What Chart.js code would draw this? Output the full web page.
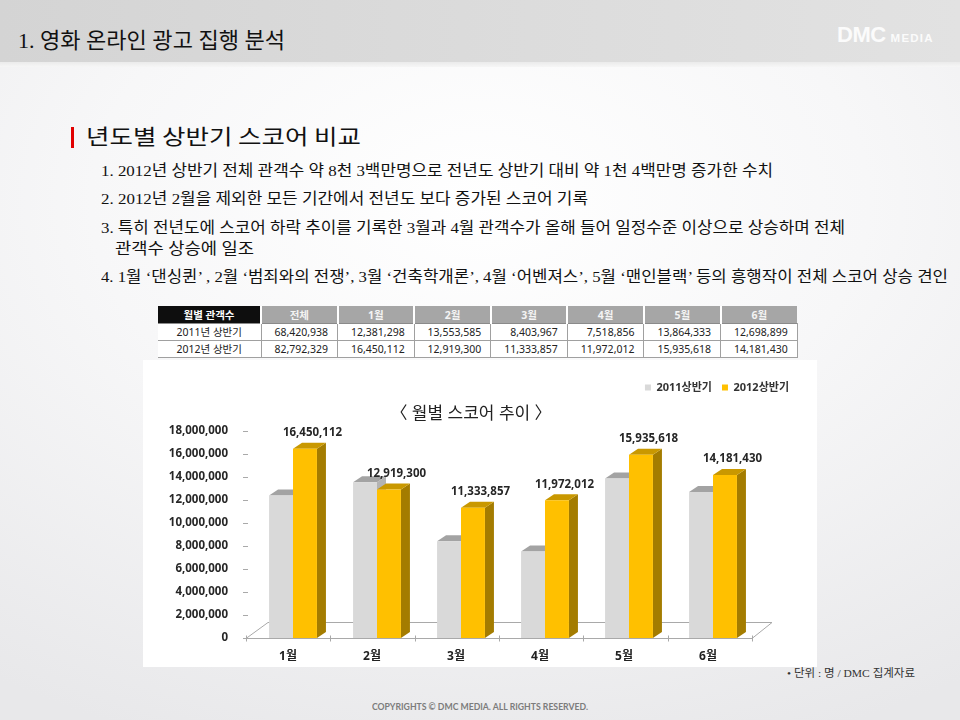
<!DOCTYPE html>
<html><head><meta charset="utf-8">
<script src="https://cdn.jsdelivr.net/npm/chart.js@4.4.1/dist/chart.umd.min.js"></script>
<style>
html,body{margin:0;padding:0;}
body{width:960px;height:720px;position:relative;overflow:hidden;
 background:radial-gradient(ellipse 90% 80% at 50% 28%, #ffffff 0%, #f7f7f8 45%, #e8e8ea 100%);
 font-family:"Noto Sans CJK KR","Noto Sans",sans-serif;}
#hdr{position:absolute;left:0;top:0;width:960px;height:62px;background:linear-gradient(to right,#d4d4d4,#dcdcdc 55%,#e2e2e2);}
#hdrline{position:absolute;left:0;top:62px;width:960px;height:5px;background:linear-gradient(#ebebeb,#f6f6f6);}
.t{position:absolute;white-space:nowrap;transform-origin:0 50%;line-height:1;color:#111;
 font-family:"Liberation Serif","Noto Sans CJK KR",serif;}
#redbar{position:absolute;left:71px;top:127px;width:3px;height:21px;background:#e10000;}
#tbl{position:absolute;left:158px;top:306px;border-collapse:collapse;table-layout:fixed;
 font-family:"Noto Sans","Noto Sans CJK KR",sans-serif;font-size:10.5px;}
#tbl td,#tbl th{height:16px;padding:0;line-height:16px;overflow:hidden;white-space:nowrap;}
#tbl th{background:#a6a6a6;color:#f4f4f4;font-weight:bold;text-align:center;border-left:2px solid #fff;}
#tbl th.first{background:#0e0e0e;color:#fff;border-left:none;}
#tbl td{background:#fff;color:#222;text-align:right;padding-right:9px;border:1px solid #a0a0a0;border-top:1px solid #8a8a8a;}
#tbl td.rowh{text-align:center;padding-right:0;border-left:none;}
#box{position:absolute;left:143px;top:360px;width:674px;height:307px;background:#fff;}
#logo{position:absolute;left:837px;top:22px;color:#fbfbfb;font-family:"Liberation Sans",sans-serif;font-weight:bold;white-space:nowrap;}
#logo .a{font-size:22px;letter-spacing:-0.5px;}
#logo .b{font-size:11.5px;letter-spacing:1.2px;margin-left:5px;}
#unit{font-size:11px;color:#333;}
#copy{font-family:"Lato","Liberation Sans",sans-serif;font-weight:bold;font-size:9.5px;color:#7c7c7c;}
</style></head>
<body>
<div id="hdr"></div><div id="hdrline"></div>
<div id="logo"><span class="a">DMC</span><span class="b">MEDIA</span></div>
<div class="t" data-w="267" style="left:18px;top:30px;font-size:22px;">1. 영화 온라인 광고 집행 분석</div>
<div id="redbar"></div>
<div class="t" data-w="275" style="left:86px;top:125px;font-size:21px;font-family:'Noto Sans CJK KR';">년도별 상반기 스코어 비교</div>
<div class="t" data-w="672" style="left:101px;top:163px;font-size:15.5px;">1. 2012년 상반기 전체 관객수 약 8천 3백만명으로 전년도 상반기 대비 약 1천 4백만명 증가한 수치</div>
<div class="t" data-w="487" style="left:101px;top:191px;font-size:15.5px;">2. 2012년 2월을 제외한 모든 기간에서 전년도 보다 증가된 스코어 기록</div>
<div class="t" data-w="744" style="left:101px;top:220px;font-size:15.5px;">3. 특히 전년도에 스코어 하락 추이를 기록한 3월과 4월 관객수가 올해 들어 일정수준 이상으로 상승하며 전체</div>
<div class="t" data-w="139" style="left:115px;top:241px;font-size:15.5px;">관객수 상승에 일조</div>
<div class="t" data-w="847" style="left:101px;top:269px;font-size:15.5px;">4. 1월 ‘댄싱퀸’ , 2월 ‘범죄와의 전쟁’, 3월 ‘건축학개론’, 4월 ‘어벤져스’, 5월 ‘맨인블랙’ 등의 흥행작이 전체 스코어 상승 견인</div>
<table id="tbl"></table>
<div id="box"><canvas id="c" width="674" height="307" style="width:674px;height:307px;display:block;"></canvas></div>
<div class="t" id="unit" data-w="128" style="left:787px;top:668px;">• 단위 : 명 / DMC 집계자료</div>
<div class="t" id="copy" data-w="216" style="left:372px;top:702px;">COPYRIGHTS © DMC MEDIA. ALL RIGHTS RESERVED.</div>
<script>
// ---- data ----
const months = ['1월','2월','3월','4월','5월','6월'];
const seriesNames = ['2011상반기','2012상반기'];
const rowLabels = ['2011년 상반기','2012년 상반기'];
const values2011 = [12381298,13553585,8403967,7518856,13864333,12698899];
const values2012 = [16450112,12919300,11333857,11972012,15935618,14181430];
const totals = [68420938,82792329];
const tableHeader = ['월별 관객수','전체'];
const yMax = 18000000, yStep = 2000000;
const chartTitle = '〈 월별 스코어 추이 〉';

const fmt = v => v.toLocaleString('en-US');

// ---- table ----
(function(){
  const t = document.getElementById('tbl');
  let cg = '<colgroup><col style="width:103px">' + '<col style="width:76.6px">'.repeat(7) + '</colgroup>';
  let h = '<tr>' + tableHeader.concat(months).map((s,i)=>`<th class="${i===0?'first':''}" style="height:17px">${s}</th>`).join('') + '</tr>';
  [values2011, values2012].forEach((vals,r)=>{
    h += '<tr><td class="rowh">'+rowLabels[r]+'</td><td>'+fmt(totals[r])+'</td>' + vals.map(v=>'<td>'+fmt(v)+'</td>').join('') + '</tr>';
  });
  t.innerHTML = cg + h;
})();

// ---- fit text widths ----
function fit(){
  document.querySelectorAll('[data-w]').forEach(el=>{
    el.style.transform='none';
    const w = el.getBoundingClientRect().width;
    el.style.transform = 'scaleX(' + (parseFloat(el.dataset.w)/w) + ')';
  });
}
fit();
if (document.fonts && document.fonts.ready) document.fonts.ready.then(fit);

// ---- chart ----
const F = '"Noto Sans","Noto Sans CJK KR",sans-serif';
const DX = 9, DY = 6;
const faces = [
  {front:'#d9d9d9', top:'#a3a3a3', side:'#b3b3b3'},
  {front:'#ffc000', top:'#c99800', side:'#a47c00'}
];
function poly(ctx, pts, fill){
  ctx.beginPath(); ctx.moveTo(pts[0][0],pts[0][1]);
  for (let i=1;i<pts.length;i++) ctx.lineTo(pts[i][0],pts[i][1]);
  ctx.closePath(); ctx.fillStyle=fill; ctx.fill();
}
const bar3d = {
  id:'bar3d',
  beforeDatasetsDraw(chart){
    const ctx = chart.ctx, ca = chart.chartArea, ys = chart.scales.y;
    const y0 = Math.round(ys.getPixelForValue(0)) + 0.5;
    const L = ca.left - 5, R = ca.right - 3;
    ctx.save();
    ctx.strokeStyle = '#a9a9a9'; ctx.lineWidth = 1;
    ctx.beginPath();
    ctx.moveTo(L, y0); ctx.lineTo(R, y0); ctx.lineTo(R+20, y0-16); ctx.lineTo(L+22, y0-16); ctx.closePath();
    ctx.stroke();
    const step = (R - L) / months.length;
    ctx.beginPath();
    for (let i=0;i<=months.length;i++){ const x = Math.round(L + i*step)+0.5; ctx.moveTo(x, y0-3); ctx.lineTo(x, y0+3); }
    ys.ticks.forEach(t=>{ const y = Math.round(ys.getPixelForValue(t.value))+0.5; ctx.moveTo(ca.left-8, y); ctx.lineTo(ca.left-3, y); });
    ctx.stroke();
    chart.data.datasets.forEach((ds,di)=>{
      chart.getDatasetMeta(di).data.forEach(bar=>{
        const p = bar.getProps(['x','y','base','width'], true);
        const l = p.x - p.width/2, r = p.x + p.width/2;
        poly(ctx, [[r,p.y],[r+DX,p.y-DY],[r+DX,p.base-DY],[r,p.base]], faces[di].side);
        poly(ctx, [[l,p.y],[l+DX,p.y-DY],[r+DX,p.y-DY],[r,p.y]], faces[di].top);
      });
    });
    ctx.restore();
  },
  afterDatasetsDraw(chart){
    const ctx = chart.ctx;
    ctx.save();
    ctx.font = 'bold 11.5px ' + F; ctx.fillStyle = '#262626';
    ctx.textAlign = 'center'; ctx.textBaseline = 'middle';
    chart.getDatasetMeta(1).data.forEach((bar,i)=>{
      const p = bar.getProps(['x','y'], true);
      ctx.fillText(fmt(chart.data.datasets[1].data[i]), p.x + 7.5, p.y - 16);
    });
    ctx.restore();
  }
};

const chart = new Chart(document.getElementById('c'), {
  type:'bar',
  data:{
    labels: months,
    datasets:[
      {label: seriesNames[0], data: values2011, backgroundColor: faces[0].front, borderWidth:0, categoryPercentage:0.57, barPercentage:1.0},
      {label: seriesNames[1], data: values2012, backgroundColor: faces[1].front, borderWidth:0, categoryPercentage:0.57, barPercentage:1.0}
    ]
  },
  options:{
    responsive:false, animation:false, devicePixelRatio:1,
    layout:{padding:{left:0, top:12, right:18, bottom:0}},
    plugins:{
      legend:{position:'top', align:'end', labels:{boxWidth:6, boxHeight:6, padding:10, color:'#333', font:{size:11, weight:'bold', family:F}}},
      title:{display:true, text: chartTitle, weight:500, color:'#222', font:{size:17, weight:'normal', family:F}, padding:{top:1, bottom:10}},
      tooltip:{enabled:false}
    },
    scales:{
      x:{grid:{display:false}, border:{display:false},
         ticks:{labelOffset:-5, padding:3, color:'#222', font:{size:12, weight:'bold', family:F}},
         afterFit(s){ s.height = 29; }},
      y:{min:0, max:yMax, grid:{display:false}, border:{display:false},
         ticks:{stepSize:yStep, padding:15, color:'#262626', font:{size:11.5, weight:'bold', family:F}, callback:v=>fmt(v)},
         afterFit(s){ s.width = 108; }},
      y2:{position:'right', display:true, grid:{display:false}, border:{display:false}, ticks:{display:false},
         afterFit(s){ s.width = 44; }}
    }
  },
  plugins:[bar3d]
});
const dTop = 71 - chart.chartArea.top;
chart.options.plugins.title.padding.bottom += dTop;
chart.update();
</script>
</body></html>
